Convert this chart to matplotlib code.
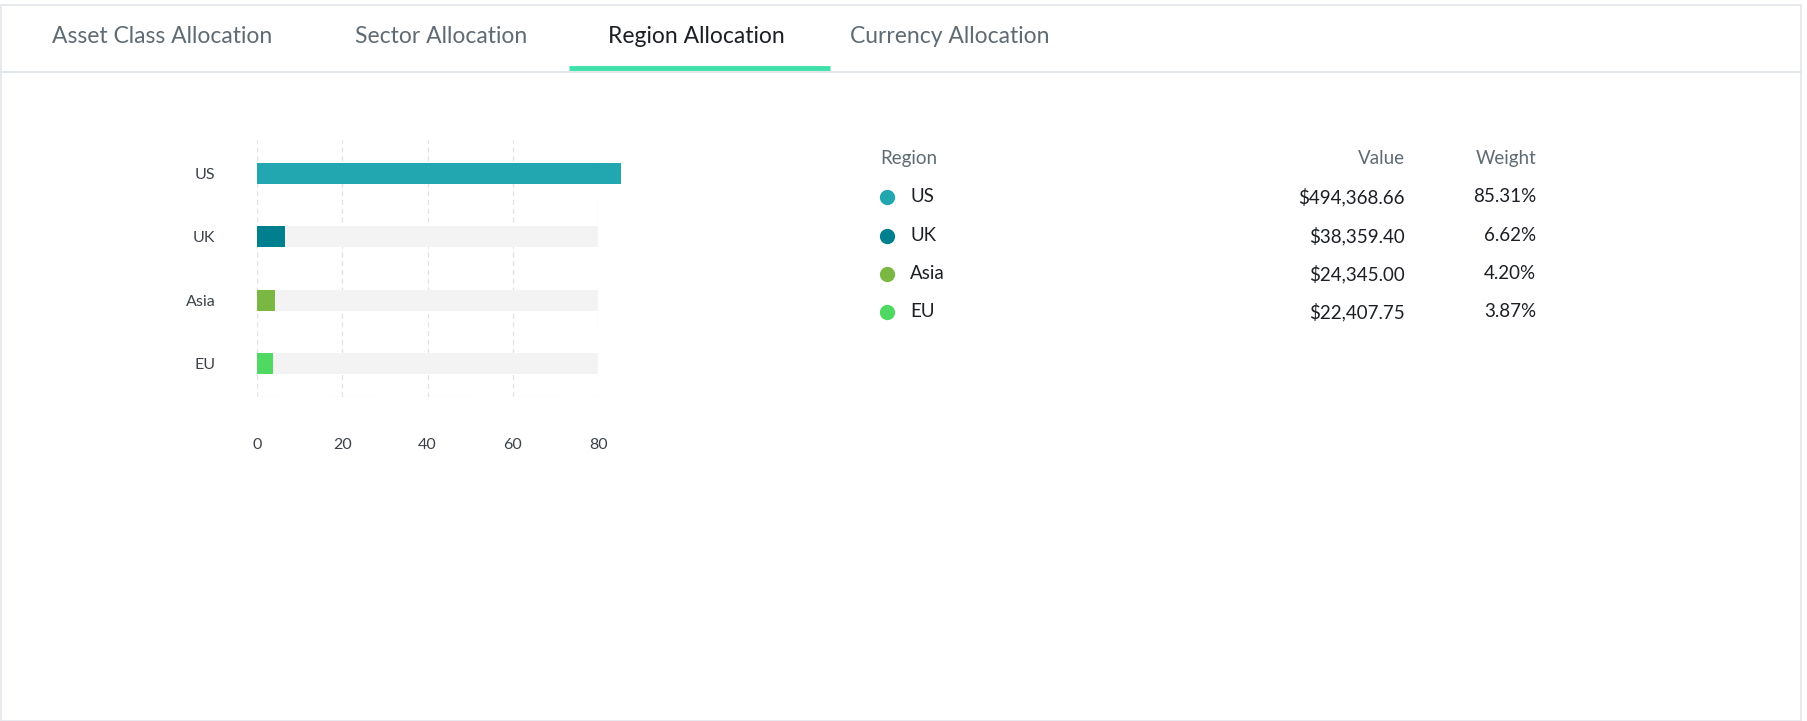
import matplotlib.pyplot as plt
from matplotlib.lines import Line2D
from matplotlib.patches import Rectangle

# data
regions = ['US', 'UK', 'Asia', 'EU']
values = ['$494,368.66', '$38,359.40', '$24,345.00', '$22,407.75']
weights = [85.31, 6.62, 4.20, 3.87]
colors = ['#22a7b0', '#00808f', '#7bb843', '#4fd862']
tabs = ['Asset Class Allocation', 'Sector Allocation', 'Region Allocation', 'Currency Allocation']
tab_x = [45, 308, 528, 738]
xticks = [0, 20, 40, 60, 80]

plt.rcParams['font.family'] = 'Lato'
W, H = 1568, 627
fig = plt.figure(figsize=(18.07, 7.21), dpi=100)


def fx(x):
    return x / W


def fy(y):
    return 1 - y / H


# frame and tabs
fig.add_artist(Rectangle((fx(1), 0), fx(1562), fy(4), transform=fig.transFigure,
                         fill=False, ec='#e3e8ec', lw=1.2))
fig.add_artist(Line2D([fx(1), fx(1563)], [fy(63), fy(63)], transform=fig.transFigure,
                      color='#dde3e8', lw=1.2))
for name, x in zip(tabs, tab_x):
    active = name == 'Region Allocation'
    fig.text(fx(x), fy(32), name, fontsize=16.5, va='center',
             color='#1b1f24' if active else '#5f6b74')
fig.add_artist(Line2D([fx(494), fx(720)], [fy(59), fy(59)], transform=fig.transFigure,
                      color='#3de0a9', lw=3.5, solid_capstyle='butt'))

# bar chart
ax = fig.add_axes([fx(223), fy(345), fx(519 - 223), (345 - 122) / H])
ypos = list(range(len(regions)))
ax.barh(ypos, [80] * len(regions), height=0.33, color='#f3f3f3', zorder=1)
ax.barh(ypos, weights, height=0.33, color=colors, zorder=2, clip_on=False)
ax.set_xlim(0, 80)
ax.set_ylim(len(regions) - 0.473, -0.527)
ax.set_xticks(xticks)
ax.set_yticks(ypos, regions)
for x in xticks:
    ax.axvline(x, color='#e2e2e2', lw=0.9, ls=(0, (4, 3)), zorder=0)
ax.axhline(len(regions) - 0.473, color='#e2e2e2', lw=0.9, ls=(0, (4, 3)), zorder=0)
for s in ax.spines.values():
    s.set_visible(False)
ax.tick_params(length=0, labelsize=11.5, colors='#3c4248')
ax.tick_params(axis='x', pad=30)
ax.tick_params(axis='y', pad=30)

# table
fig.text(fx(764), fy(138), 'Region', fontsize=13.5, va='center', color='#5f6b74')
fig.text(fx(1219), fy(138), 'Value', fontsize=13.5, va='center', ha='right', color='#5f6b74')
fig.text(fx(1333), fy(138), 'Weight', fontsize=13.5, va='center', ha='right', color='#5f6b74')
row_y = [171, 205, 238, 271]
for r, v, w, c, y in zip(regions, values, weights, colors, row_y):
    fig.add_artist(Line2D([fx(770)], [fy(y)], transform=fig.transFigure, marker='o',
                          ms=10, color=c, lw=0))
    fig.text(fx(790), fy(y), r, fontsize=13.5, va='center', color='#1b1f24')
    fig.text(fx(1219), fy(y), v, fontsize=13.5, va='center', ha='right', color='#1b1f24')
    fig.text(fx(1333), fy(y), f'{w:.2f}%', fontsize=13.5, va='center', ha='right', color='#1b1f24')

fig.savefig('out.png', dpi=100)
